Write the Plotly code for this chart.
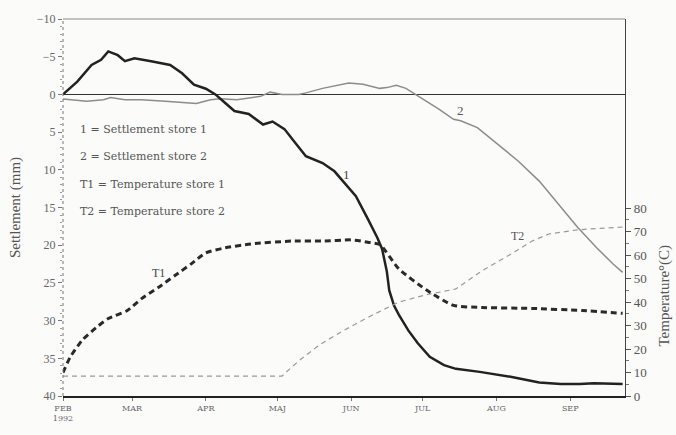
import plotly.graph_objects as go

# Settlement store 1 (mm, positive = downward)
s1_dates = ["1992-02-01", "1992-02-07", "1992-02-13", "1992-02-17", "1992-02-20", "1992-02-24",
            "1992-02-27", "1992-03-02", "1992-03-09", "1992-03-17", "1992-03-22", "1992-03-27",
            "1992-04-01", "1992-04-05", "1992-04-09", "1992-04-13", "1992-04-19", "1992-04-25",
            "1992-04-29", "1992-05-04", "1992-05-08", "1992-05-13", "1992-05-20", "1992-05-25",
            "1992-05-28", "1992-06-03", "1992-06-08", "1992-06-12", "1992-06-14", "1992-06-16",
            "1992-06-17", "1992-06-19", "1992-06-21", "1992-06-25", "1992-06-29", "1992-07-04",
            "1992-07-10", "1992-07-15", "1992-07-25", "1992-08-08", "1992-08-19", "1992-08-28",
            "1992-09-05", "1992-09-11", "1992-09-23"]
s1_mm = [0, -1.7, -3.9, -4.6, -5.7, -5.2,
         -4.4, -4.8, -4.4, -3.9, -2.8, -1.3,
         -0.75, 0, 1.1, 2.2, 2.6, 4.0,
         3.6, 4.6, 6.2, 8.2, 9.1, 10.2,
         11.3, 13.5, 16.5, 19.0, 20.5, 23.5,
         26.0, 28.0, 29.2, 31.3, 33.0, 34.8,
         35.9, 36.4, 36.8, 37.5, 38.2, 38.4,
         38.4, 38.3, 38.4]

# Settlement store 2 (mm)
s2_dates = ["1992-02-01", "1992-02-11", "1992-02-18", "1992-02-21", "1992-02-27", "1992-03-05",
            "1992-03-15", "1992-03-28", "1992-04-03", "1992-04-07", "1992-04-14", "1992-04-24",
            "1992-04-28", "1992-05-03", "1992-05-10", "1992-05-13", "1992-05-20", "1992-05-27",
            "1992-05-31", "1992-06-06", "1992-06-13", "1992-06-16", "1992-06-20", "1992-06-24",
            "1992-06-28", "1992-07-03", "1992-07-08", "1992-07-14", "1992-07-17", "1992-07-24",
            "1992-08-01", "1992-08-10", "1992-08-19", "1992-08-28", "1992-09-04", "1992-09-12",
            "1992-09-19", "1992-09-23"]
s2_mm = [0.6, 0.9, 0.7, 0.4, 0.7, 0.7,
         0.9, 1.2, 0.7, 0.57, 0.7, 0.26,
         -0.3, 0, 0, -0.2, -0.8, -1.2,
         -1.5, -1.35, -0.8, -0.9, -1.2, -0.8,
         0, 0.9, 2.0, 3.3, 3.5, 4.4,
         6.5, 8.8, 11.5, 15.0, 17.6, 20.3,
         22.5, 23.6]

# Temperature store 1 (deg C)
t1_dates = ["1992-02-01", "1992-02-04", "1992-02-09", "1992-02-15", "1992-02-20", "1992-02-28",
            "1992-03-05", "1992-03-12", "1992-03-19", "1992-03-26", "1992-04-01", "1992-04-09",
            "1992-04-20", "1992-05-07", "1992-05-20", "1992-06-01", "1992-06-08", "1992-06-13",
            "1992-06-21", "1992-07-03", "1992-07-14", "1992-07-26", "1992-08-16", "1992-09-06",
            "1992-09-23"]
t1_temp = [10, 16.5, 23.7, 29.2, 33, 36.4,
           41.5, 46.2, 51.3, 56.4, 61, 63.1,
           64.8, 66, 66, 66.5, 65.5, 64.5,
           54.2, 44.9, 38.6, 37.7, 37.3, 36.4,
           35.2]

# Temperature store 2 (deg C)
t2_dates = ["1992-02-01", "1992-05-03", "1992-05-10", "1992-05-19", "1992-05-29", "1992-06-09",
            "1992-06-21", "1992-07-02", "1992-07-15", "1992-07-26", "1992-08-07", "1992-08-16",
            "1992-08-23", "1992-09-04", "1992-09-23"]
t2_temp = [8.5, 8.5, 15, 22, 28, 34,
           40, 43, 45.6, 53.4, 60.4, 66,
           69, 70.8, 72]

month_ticks = ["1992-02-01", "1992-03-01", "1992-04-01", "1992-05-01", "1992-06-01",
               "1992-07-01", "1992-08-01", "1992-09-01"]
month_labels = ["FEB<br>1992", "MAR", "APR", "MAJ", "JUN", "JUL", "AUG", "SEP"]

settle_ticks = [-10, -5, 0, 5, 10, 15, 20, 25, 30, 35, 40]
temp_ticks = [0, 10, 20, 30, 40, 50, 60, 70, 80]

legend_lines = ["1 = Settlement store 1", "2 = Settlement store 2",
                "T1 = Temperature store 1", "T2 = Temperature store 2"]

SERIF = "Liberation Serif"

fig = go.Figure()

fig.add_trace(go.Scatter(x=t2_dates, y=t2_temp, yaxis="y2", mode="lines",
                         line=dict(color="#9a9a9a", width=1.2, dash="5px,4px")))
fig.add_trace(go.Scatter(x=t1_dates, y=t1_temp, yaxis="y2", mode="lines",
                         line=dict(color="#2a2a2a", width=3, dash="6px,4px", shape="spline", smoothing=0.6)))
fig.add_trace(go.Scatter(x=s2_dates, y=s2_mm, mode="lines",
                         line=dict(color="#8c8c8c", width=1.5)))
fig.add_trace(go.Scatter(x=s1_dates, y=s1_mm, mode="lines",
                         line=dict(color="#222222", width=2.5)))

annotations = []
for i, txt in enumerate(legend_lines):
    annotations.append(dict(xref="paper", yref="paper", x=(78 - 63) / 562, y=(396 - (128 + 27.5 * i)) / 379,
                            text=txt, showarrow=False, xanchor="left", yanchor="middle",
                            font=dict(family="DejaVu Serif", size=11, color="#555555")))

# curve labels
annotations += [
    dict(x="1992-05-30", y=10.6, xref="x", yref="y", text="1", showarrow=False,
         font=dict(family=SERIF, size=13, color="#444444")),
    dict(x="1992-07-17", y=2.2, xref="x", yref="y", text="2", showarrow=False,
         font=dict(family=SERIF, size=13, color="#555555")),
    dict(x="1992-03-12", y=52.5, xref="x", yref="y2", text="T1", showarrow=False,
         font=dict(family=SERIF, size=12, color="#444444")),
    dict(x="1992-08-10", y=68, xref="x", yref="y2", text="T2", showarrow=False,
         font=dict(family=SERIF, size=12, color="#555555")),
    dict(xref="paper", yref="paper", x=(665 - 63) / 562, y=(396 - 295) / 379,
         xanchor="center", yanchor="middle",
         text="Temperature°(C)", textangle=-90, showarrow=False,
         font=dict(family=SERIF, size=15, color="#555555")),
]

fig.update_layout(
    width=676, height=435,
    margin=dict(l=63, r=51, t=17, b=39),
    paper_bgcolor="#fbfbfa", plot_bgcolor="#fbfbfa",
    showlegend=False,
    xaxis=dict(type="date", range=["1992-02-01", "1992-09-24"],
               tickmode="array", tickvals=month_ticks, ticktext=month_labels,
               ticks="outside", ticklen=3, tickcolor="#777",
               showline=True, linecolor="#222", linewidth=2,
               showgrid=False, zeroline=False,
               tickfont=dict(family="DejaVu Serif", size=8, color="#666666")),
    yaxis=dict(range=[40, -10], tickmode="array", tickvals=settle_ticks,
               ticks="outside", ticklen=4, tickcolor="#777",
               minor=dict(dtick=1, ticks="outside", ticklen=2, tickcolor="#999"),
               showline=False, showgrid=False,
               zeroline=True, zerolinecolor="#333", zerolinewidth=1,
               tickfont=dict(family=SERIF, size=12, color="#666666"),
               title=dict(text="Settlement (mm)", standoff=12,
                          font=dict(family=SERIF, size=15, color="#555555"))),
    yaxis2=dict(overlaying="y", side="right", anchor="x", range=[0, 160.6],
                tickmode="array", tickvals=temp_ticks,
                ticks="outside", ticklen=5, tickcolor="#555",
                minor=dict(tickvals=[5, 15, 25, 35, 45, 55, 65, 75], ticks="outside", ticklen=3, tickcolor="#777"),
                showline=True, linecolor="#444", linewidth=1.2,
                showgrid=False, zeroline=False,
                tickfont=dict(family=SERIF, size=13, color="#555555")),
    annotations=annotations,
    shapes=[
        dict(type="line", xref="paper", yref="paper", x0=0, x1=1, y0=1, y1=1,
             line=dict(color="#8a8a8a", width=1)),
        dict(type="line", xref="paper", yref="paper", x0=0, x1=0, y0=0, y1=1,
             line=dict(color="#777777", width=1, dash="dot")),
    ],
)

fig.write_html("out.html")
